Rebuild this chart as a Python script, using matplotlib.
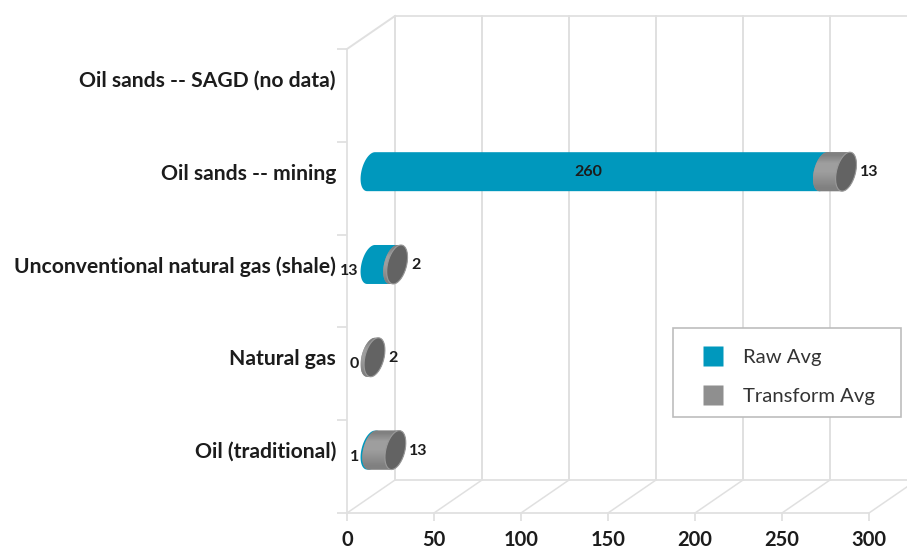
import numpy as np
import matplotlib
matplotlib.use('Agg')
import matplotlib.pyplot as plt
from matplotlib.lines import Line2D
from matplotlib.patches import Polygon, Rectangle

plt.rcParams['font.family'] = ['Lato', 'DejaVu Sans']

categories = ['Oil (traditional)', 'Natural gas', 'Unconventional natural gas (shale)',
              'Oil sands -- mining', 'Oil sands -- SAGD (no data)']
raw_avg = [1, 0, 13, 260, None]
transform_avg = [13, 2, 2, 13, None]
x_ticks = [0, 50, 100, 150, 200, 250, 300]

TEAL = '#0098bd'
GRAY = '#8f8f8f'
CAP = '#636363'
GRID = '#e0e0e0'
TEXT = '#1c1c1c'

# the 3d look is just an offset, in data units, between front and back of the box
DEPTH_X = 27.6
DEPTH_Y = 0.356
# end cap ellipse of a bar
CAP_A = 6.0
CAP_B = 0.195
CAP_C = 0.078


def arc(cx, cy, t0, t1):
    t = np.linspace(t0, t1, 40)
    return np.column_stack([cx + CAP_A * np.sin(t), cy + CAP_B * np.cos(t) + CAP_C * np.sin(t)])


def body(x0, x1, cy):
    # right half of the ellipse at x1 then left half at x0
    t0 = np.arctan2(CAP_C, CAP_B)
    return np.vstack([arc(x1, cy, t0, t0 + np.pi), arc(x0, cy, t0 + np.pi, t0 + 2 * np.pi)])


fig = plt.figure(figsize=(9.07, 5.5), dpi=100)
ax = fig.add_axes([347 / 907, 37 / 550, 522 / 907, 464 / 550])
ax.set_xlim(0, 300)
ax.set_ylim(0, 5)
for side in ['top', 'right']:
    ax.spines[side].set_visible(False)
for side in ['left', 'bottom']:
    ax.spines[side].set_color(GRID)
    ax.spines[side].set_linewidth(1.3)

# box behind the bars
for v in x_ticks:
    ax.plot([v, v + DEPTH_X], [0, DEPTH_Y], color=GRID, lw=1.1, clip_on=False, zorder=1)
    ax.plot([v + DEPTH_X, v + DEPTH_X], [DEPTH_Y, 5 + DEPTH_Y], color=GRID, lw=1.4, clip_on=False, zorder=1)
ax.plot([0, DEPTH_X], [5, 5 + DEPTH_Y], color=GRID, lw=1.4, clip_on=False, zorder=1)
ax.plot([DEPTH_X, 330], [DEPTH_Y, DEPTH_Y], color=GRID, lw=1.3, clip_on=False, zorder=1)
ax.plot([DEPTH_X, 330], [5 + DEPTH_Y, 5 + DEPTH_Y], color=GRID, lw=1.3, clip_on=False, zorder=1)

ax.set_xticks(x_ticks)
ax.set_yticks(range(6))
ax.set_yticklabels([])
ax.set_yticks([i + 0.5 + DEPTH_Y / 2 for i in range(len(categories))], labels=categories, minor=True)
ax.tick_params(axis='x', length=6, color=GRID, width=1.3, labelsize=14.5, pad=6, labelcolor=TEXT)
ax.tick_params(axis='y', which='major', length=7, color=GRID, width=1.3)
ax.tick_params(axis='y', which='minor', length=0, pad=8, labelsize=15.2, labelcolor=TEXT)
for lab in ax.get_xticklabels() + ax.get_yticklabels(minor=True):
    lab.set_fontweight('bold')

# bars
for i, (raw, trans) in enumerate(zip(raw_avg, transform_avg)):
    if raw is None:
        continue
    cy = i + 0.5 + DEPTH_Y / 2
    x0 = DEPTH_X / 2
    x1 = x0 + raw
    x2 = x1 + trans
    if raw > 0:
        ax.add_patch(Polygon(body(x0, x1, cy), closed=True, fc=TEAL, ec='none', clip_on=False, zorder=3))
    poly = Polygon(body(x1, x2, cy), closed=True, fc=GRAY, ec='none', clip_on=False, zorder=4)
    ax.add_patch(poly)
    grad = np.array([[0.5], [0.62], [0.62], [0.56], [0.5]])
    im = ax.imshow(grad, cmap='gray', vmin=0, vmax=1, aspect='auto', interpolation='bilinear',
                   extent=[x1 - CAP_A, x2 + CAP_A, cy - 0.22, cy + 0.22], zorder=4, clip_on=True)
    im.set_clip_path(poly)
    cap = arc(x2, cy, 0, 2 * np.pi)
    ax.add_patch(Polygon(cap, closed=True, fc=CAP, ec='#9a9a9a', lw=0.8, clip_on=False, zorder=5))

    # value labels
    lab_kw = dict(fontsize=11.5, fontweight='bold', color=TEXT, zorder=6)
    if raw > 100:
        ax.text(x0 + raw / 2 - 5, cy, str(raw), ha='center', va='center', **lab_kw)
    else:
        ax.text(x0 - CAP_A - 1, cy - 0.075, str(raw), ha='right', va='center', **lab_kw)
    ax.text(x2 + CAP_A + 2, cy - 0.005, str(trans), ha='left', va='center', **lab_kw)

ax.set_xlim(0, 300)
ax.set_ylim(0, 5)

# legend frame is wider than the entries, so it gets its own box
ax.add_patch(Rectangle((673 / 907, 133 / 550), 228 / 907, 89 / 550, transform=fig.transFigure,
                       fc='white', ec='#bdbdbd', lw=1.2, clip_on=False, zorder=7))
handles = [Line2D([], [], ls='none', marker='s', ms=14, mfc=TEAL, mec='none', label='Raw Avg'),
           Line2D([], [], ls='none', marker='s', ms=14, mfc=GRAY, mec='none', label='Transform Avg')]
leg = ax.legend(handles=handles, loc='lower left', bbox_to_anchor=(673 / 907, 130 / 550),
                bbox_transform=fig.transFigure, fontsize=14.6, frameon=False,
                handlelength=2.5, handletextpad=0.22, labelspacing=1.1, borderpad=0.72,
                borderaxespad=0, labelcolor='#333333')
leg.set_zorder(8)

fig.savefig('out.png', dpi=100)
